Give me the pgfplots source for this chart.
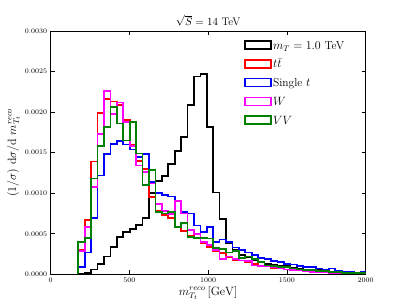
\documentclass[border=0pt]{standalone}
\usepackage{pgfplots}
\pgfplotsset{compat=1.18}
\usepackage{pgfplotstable}
\pgfplotstableread{
x      black   red     blue    mag     green
175    0       0       0       0       0
175    0.00000 0.00030 0.00009 0.00029 0.00040
215.8  0.00002 0.00067 0.00027 0.00058 0.00045
256.6  0.00006 0.00139 0.00069 0.00108 0.00118
297.4  0.00013 0.00199 0.00122 0.00173 0.00158
338.2  0.00022 0.00216 0.00148 0.00226 0.00182
379    0.00034 0.00213 0.00161 0.00198 0.00206
419.8  0.00046 0.00209 0.00164 0.00212 0.00186
460.6  0.00052 0.00190 0.00160 0.00188 0.00165
501.4  0.00056 0.00160 0.00154 0.00158 0.00188
542.2  0.00061 0.00140 0.00145 0.00134 0.00149
583    0.00069 0.00130 0.00148 0.00126 0.00110
623.8  0.00100 0.00095 0.00114 0.00112 0.00129
664.6  0.00115 0.00078 0.00100 0.00087 0.00077
705.4  0.00121 0.00073 0.00098 0.00078 0.00075
746.2  0.00136 0.00069 0.00096 0.00074 0.00077
787    0.00152 0.00058 0.00090 0.00090 0.00058
827.8  0.00169 0.00053 0.00077 0.00075 0.00063
868.6  0.00209 0.00048 0.00075 0.00055 0.00046
909.4  0.00244 0.00044 0.00060 0.00050 0.00045
950.2  0.00247 0.00038 0.00052 0.00040 0.00045
991    0.00182 0.00034 0.00058 0.00036 0.00044
1031.8 0.00101 0.00029 0.00040 0.00030 0.00032
1072.6 0.00068 0.00026 0.00043 0.00019 0.00031
1113.4 0.00038 0.00021 0.00040 0.00022 0.00027
1154.2 0.00030 0.00018 0.00033 0.00019 0.00029
1195   0.00024 0.00017 0.00030 0.00017 0.00020
1235.8 0.00021 0.00015 0.00027 0.00016 0.00022
1276.6 0.00018 0.00013 0.00024 0.00011 0.00019
1317.4 0.00015 0.00011 0.00020 0.00010 0.00015
1358.2 0.00013 0.00010 0.00019 0.00010 0.00011
1399   0.00012 0.00008 0.00016 0.00009 0.00010
1439.8 0.00011 0.00007 0.00015 0.00008 0.00009
1480.6 0.00010 0.00006 0.00013 0.00006 0.00009
1521.4 0.00008 0.00006 0.00012 0.00005 0.00007
1562.2 0.00007 0.00005 0.00010 0.00005 0.00006
1603   0.00006 0.00004 0.00009 0.00004 0.00005
1643.8 0.00005 0.00004 0.00009 0.00003 0.00005
1684.6 0.00005 0.00003 0.00007 0.00003 0.00004
1725.4 0.00004 0.00003 0.00006 0.00003 0.00004
1766.2 0.00003 0.00002 0.00007 0.00002 0.00003
1807   0.00003 0.00002 0.00004 0.00002 0.00003
1847.8 0.00002 0.00001 0.00003 0.00002 0.00002
1888.6 0.00002 0.00002 0.00003 0.00001 0.00002
1929.4 0.00002 0.00001 0.00002 0.00002 0.00002
1970.2 0.00001 0.00001 0.00003 0.00001 0.00002
2011   0       0       0       0       0
}\histdata
\definecolor{mplgreen}{RGB}{0,128,0}
\definecolor{mplred}{RGB}{255,0,0}
\definecolor{mplblue}{RGB}{0,0,255}
\definecolor{mplmag}{RGB}{255,0,255}
\begin{document}
\begin{tikzpicture}
\useasboundingbox (-50.7pt,-31pt) rectangle (356.3pt,274.3pt);
\begin{axis}[
  at={(0,0)}, anchor=south west,
  scale only axis, width=315pt, height=243.3pt,
  xmin=0, xmax=2000, ymin=0, ymax=0.003,
  xtick={0,500,1000,1500,2000},
  ytick={0,0.0005,0.001,0.0015,0.002,0.0025,0.003},
  scaled y ticks=false,
  yticklabel style={/pgf/number format/.cd, fixed, fixed zerofill, precision=4},
  xticklabel style={/pgf/number format/.cd, fixed, set thousands separator={}},
  tick label style={font=\fontsize{7.5}{9}\selectfont},
  tick align=inside, major tick length=4pt,
  axis line style={line width=0.8pt},
  every tick/.style={black, line width=0.6pt},
  title={$\sqrt{S}=14$ TeV},
  title style={font=\fontsize{11}{13}\selectfont, yshift=-5pt},
  xlabel={$m_{T_t}^{reco}\,[\mathrm{GeV}]$},
  ylabel={$(1/\sigma)\ \mathrm{d}\sigma/\mathrm{d}\ m_{T_t}^{reco}$},
  label style={font=\fontsize{12}{14}\selectfont},
  xlabel style={yshift=3pt},
  ylabel style={yshift=-2pt},
  legend cell align=left,
  legend style={draw=none, fill=none, at={(0.605,0.975)}, anchor=north west,
    font=\fontsize{11.5}{13}\selectfont, row sep=4.7pt,
    nodes={inner sep=1pt, text height=9pt, text depth=3pt}},
  legend image code/.code={\draw[#1, line width=1.6pt] (0pt,-3pt) rectangle (26pt,5pt);},
  every axis plot/.append style={line width=1.7pt, const plot, mark=none},
]
\addplot[black] table[x=x, y=black] {\histdata};
\addlegendentry{$m_T=1.0$ TeV}
\addplot[mplred] table[x=x, y=red] {\histdata};
\addlegendentry{$t\bar{t}$}
\addplot[mplblue] table[x=x, y=blue] {\histdata};
\addlegendentry{Single $t$}
\addplot[mplmag] table[x=x, y=mag] {\histdata};
\addlegendentry{$W$}
\addplot[mplgreen] table[x=x, y=green] {\histdata};
\addlegendentry{$VV$}
\end{axis}
\end{tikzpicture}
\end{document}
